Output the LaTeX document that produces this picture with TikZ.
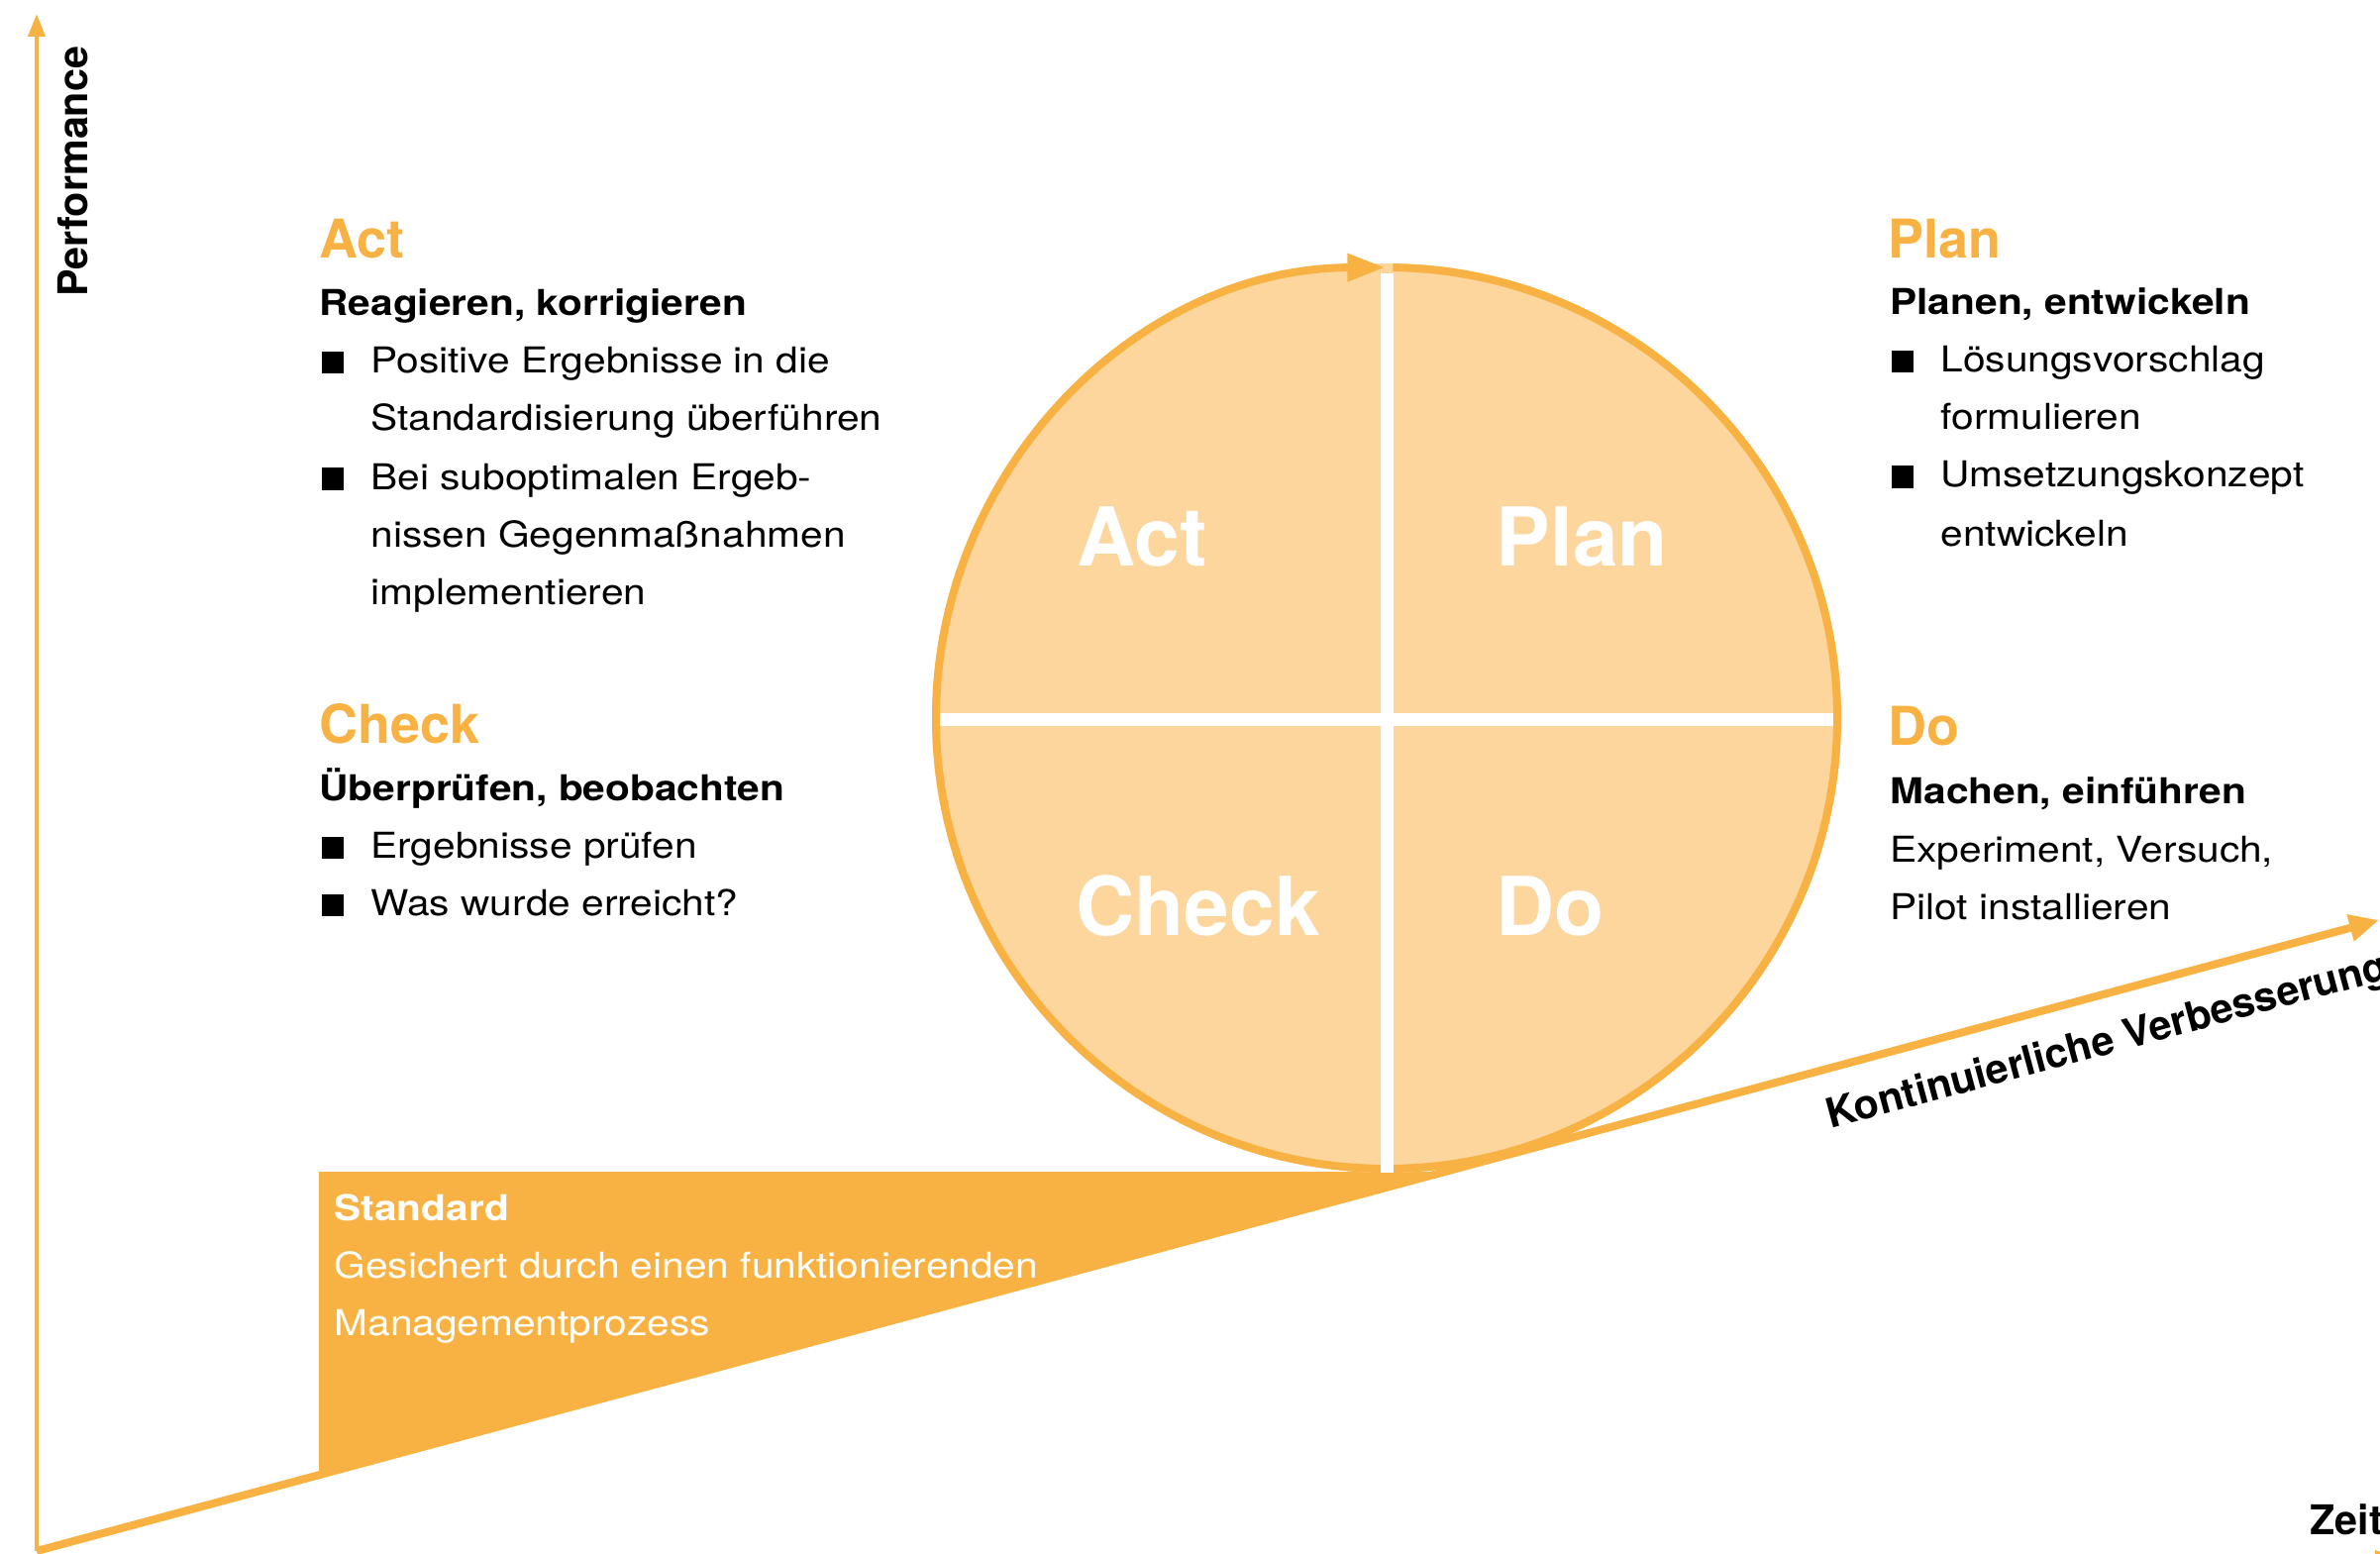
\documentclass[tikz,border=0pt]{standalone}
\usepackage{fontspec}
\setmainfont{TeX Gyre Heros}
\newfontfamily\pdcafont[FakeStretch=1.13]{TeX Gyre Heros}
\usetikzlibrary{arrows.meta}

\definecolor{pdcaorange}{RGB}{248,178,67}
\definecolor{pdcalight}{RGB}{253,214,158}

\tikzset{every picture/.style={line width=0.75pt}}
\tikzset{
  bodytext/.style={font=\pdcafont\fontsize{27}{44}\selectfont, inner sep=0pt, anchor=base west},
  subhead/.style={bodytext, font=\pdcafont\bfseries\fontsize{27}{44}\selectfont},
  headtext/.style={font=\bfseries\fontsize{40.5}{48}\selectfont, text=pdcaorange, inner sep=0pt, anchor=base west},
  quadtext/.style={font=\bfseries\fontsize{61.5}{72}\selectfont, text=white, inner sep=0pt, anchor=base west},
  axislabel/.style={font=\bfseries\fontsize{31}{36}\selectfont, inner sep=0pt, anchor=base west},
  bulletbox/.style={fill=black, inner sep=0pt, minimum size=16.5pt},
  axisline/.style={draw=pdcaorange, line width=3pt, -{Triangle[length=17.25pt,width=12.75pt]}},
  trendline/.style={draw=pdcaorange, line width=6pt, -{Triangle[length=22.5pt,width=19.5pt]}},
  gapline/.style={draw=white, line width=9.75pt}
}

\begin{document}
\begin{tikzpicture}[x=0.75pt,y=0.75pt,yscale=-1,xscale=1]
\useasboundingbox (0,0) rectangle (2403,1569);

%Coordinates
\coordinate (o) at (37,1566);
\coordinate (ytop) at (37,14);
\coordinate (xstart) at (37,1574);
\coordinate (xend) at (2421,1574);
\coordinate (kvtip) at (2402,929);
\coordinate (c) at (1400,725);

%Shape: Standard band
\fill [pdcaorange] (322,1183) -- (1458,1183) -- (322,1489) -- cycle ;

%Shape: Circle
\fill [pdcalight] (c) circle [radius=459] ;
%Curve Lines: cycle arrow
\draw [pdcaorange, line width=6pt, -{Triangle[length=28.5pt,width=20pt]}] ([shift={(-89.2:455)}]c) arc [start angle=-89.2, end angle=269.8, radius=455] ;
%Straight Lines: quadrants
\draw [gapline] (1400,276) -- (1400,1184) ;
\draw [gapline] (949,726) -- (1851,726) ;

%Straight Lines: axes
\draw [axisline] (o) -- (ytop) ;
\draw [axisline] (xstart) -- (xend) ;
\draw [trendline] (o) -- (kvtip) ;

% Text Node: quadrants
\draw (1087,571) node [quadtext] (qact) {Act};
\draw (1510,571) node [quadtext] (qplan) {Plan};
\draw (1086,944) node [quadtext] (qcheck) {Check};
\draw (1510,944) node [quadtext] (qdo) {Do};

% Text Node: Act
\draw (322,261) node [headtext] (acthead) {Act};
\draw (322,319) node [subhead] (actsub) {Reagieren, korrigieren};
\draw (336,366.5) node [bulletbox] (actb1) {};
\draw (374,377) node [bodytext] (actl1) {Positive Ergebnisse in die};
\draw (374,435) node [bodytext] (actl2) {Standardisierung überführen};
\draw (336,483.5) node [bulletbox] (actb2) {};
\draw (374,494) node [bodytext] (actl3) {Bei suboptimalen Ergeb-};
\draw (374,552) node [bodytext] (actl4) {nissen Gegenmaßnahmen};
\draw (374,610) node [bodytext] (actl5) {implementieren};

% Text Node: Check
\draw (322,750) node [headtext] (checkhead) {Check};
\draw (322,808) node [subhead] (checksub) {Überprüfen, beobachten};
\draw (336,855.5) node [bulletbox] (checkb1) {};
\draw (374,866) node [bodytext] (checkl1) {Ergebnisse prüfen};
\draw (336,913.5) node [bulletbox] (checkb2) {};
\draw (374,924) node [bodytext] (checkl2) {Was wurde erreicht?};

% Text Node: Plan
\draw (1906,261) node [headtext] (planhead) {Plan};
\draw (1908,318) node [subhead] (plansub) {Planen, entwickeln};
\draw (1921,365.5) node [bulletbox] (planb1) {};
\draw (1959,376) node [bodytext] (planl1) {Lösungsvorschlag};
\draw (1959,434) node [bodytext] (planl2) {formulieren};
\draw (1921,481.5) node [bulletbox] (planb2) {};
\draw (1959,492) node [bodytext] (planl3) {Umsetzungskonzept};
\draw (1959,551) node [bodytext] (planl4) {entwickeln};

% Text Node: Do
\draw (1906,752) node [headtext] (dohead) {Do};
\draw (1908,811) node [subhead] (dosub) {Machen, einführen};
\draw (1908,870) node [bodytext] (dol1) {Experiment, Versuch,};
\draw (1908,928) node [bodytext] (dol2) {Pilot installieren};

% Text Node: Standard
\draw (337,1232) node [subhead, text=white] (stdhead) {Standard};
\draw (337,1290) node [bodytext, text=white] (stdl1) {Gesichert durch einen funktionierenden};
\draw (337,1348) node [bodytext, text=white] (stdl2) {Managementprozess};

% Text Node: axes
\draw (88,300) node [axislabel, rotate=90] (perf) {Performance};
\draw (2332,1549) node [axislabel] (zeit) {Zeit};
\draw (1848,1140) node [axislabel, rotate=15.07] (kvlabel) {Kontinuierliche Verbesserung};

\end{tikzpicture}
\end{document}
